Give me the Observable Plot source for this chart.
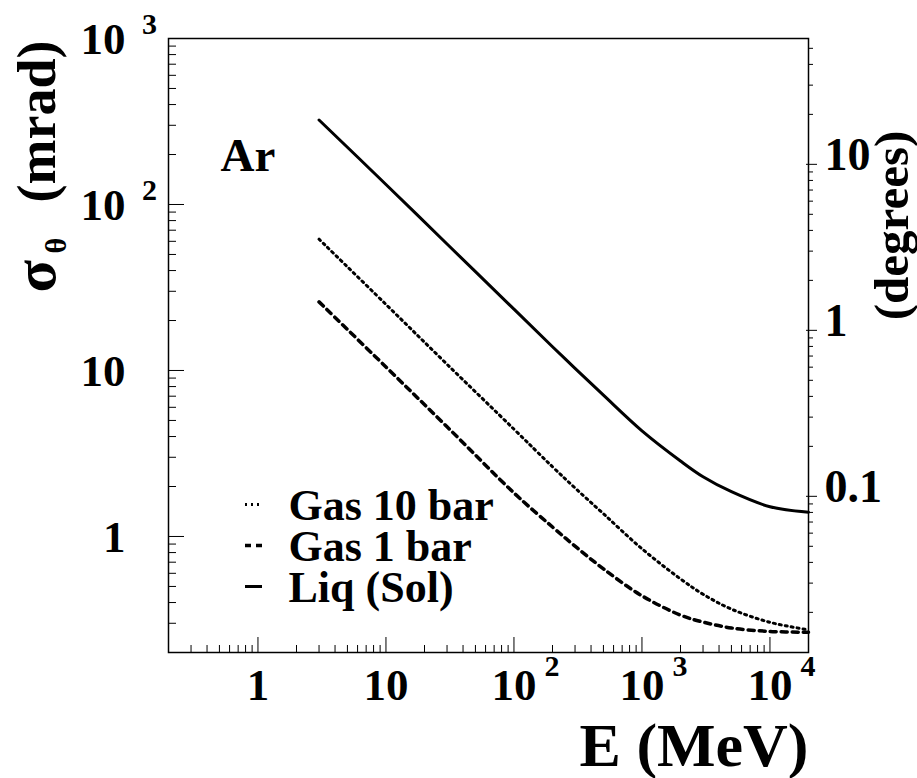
<!DOCTYPE html>
<html>
<head>
<meta charset="utf-8">
<script src="https://cdn.jsdelivr.net/npm/d3@7"></script>
<script src="https://cdn.jsdelivr.net/npm/@observablehq/plot@0.6"></script>
<style>
  html, body { margin: 0; padding: 0; background: #fff; }
  #chart svg { display: block; overflow: visible; }
</style>
</head>
<body>
<div id="chart"></div>
<script>
// ---- data (E in MeV, sigma_theta in mrad) ----
const energy = [3, 10, 30, 100, 200, 300, 500, 1000, 2000, 3000, 5000, 10000, 20000];
const liqSol = [323, 132, 57.8, 23.4, 13.9, 10.3, 7.1, 4.33, 2.85, 2.29, 1.86, 1.51, 1.40];
const gas10  = [61.8, 25.0, 10.9, 4.43, 2.63, 1.96, 1.37, 0.843, 0.555, 0.449, 0.365, 0.304, 0.274];
const gas1   = [25.9, 10.5, 4.58, 1.83, 1.14, 0.875, 0.638, 0.439, 0.336, 0.305, 0.281, 0.268, 0.265];

// ---- axis tick values / labels ----
const xTicks = [1, 10, 100, 1000, 10000];
const xTickBase = ["1", "10", "10", "10", "10"];
const xTickExp = ["", "", "2", "3", "4"];
const yTicks = [1, 10, 100, 1000];
const yTickBase = ["1", "10", "10", "10"];
const yTickExp = ["", "", "2", "3"];
const degTicks = [0.1, 1, 10];
const degTickLabels = ["0.1", "1", "10"];
const legendLabels = ["Gas 10 bar", "Gas 1 bar", "Liq (Sol)"];
const xDomain = [0.2, 20000];
const yDomain = [0.2, 1000];
const mradPerDeg = Math.PI / 180 * 1000;

const decadeMinors = (decades, lo, hi) =>
  d3.merge(decades.map(p => d3.range(2, 10).map(k => +(k * p).toPrecision(6))))
    .filter(v => v > lo && v < hi);
const xMinor = decadeMinors([0.1, 1, 10, 100, 1000], xDomain[0], xDomain[1]);
const yMinor = decadeMinors([0.1, 1, 10, 100], yDomain[0], yDomain[1]);
const degMinor = decadeMinors([0.01, 0.1, 1, 10], yDomain[0] / mradPerDeg, yDomain[1] / mradPerDeg);

// ---- layout ----
const W = 917, H = 778;
const mL = 168, mR = 109, mT = 38, mB = 126;
const fw = W - mL - mR, fh = H - mT - mB;
const midY = (mT + H - mB) / 2;
const font = "'Liberation Serif', 'Times New Roman', serif";

const legendStyles = [
  {strokeWidth: 3, strokeDasharray: "2,4"},
  {strokeWidth: 3.5, strokeDasharray: "6,5"},
  {strokeWidth: 3}
];
const legendRowY = [504, 545, 586];

const T = (opts) => ({fontWeight: "bold", fontFamily: font, fill: "black", ...opts});

const marks = [
  Plot.frame({stroke: "black", strokeWidth: 1.5}),
  // bottom axis ticks (inside)
  Plot.tickX(xTicks, {x: d => d, insetTop: fh - 15, stroke: "black"}),
  Plot.tickX(xMinor, {x: d => d, insetTop: fh - 7, stroke: "black"}),
  // left axis ticks (inside)
  Plot.tickY(yTicks, {y: d => d, insetRight: fw - 16, stroke: "black"}),
  Plot.tickY(yMinor, {y: d => d, insetRight: fw - 8, stroke: "black"}),
  // right (degrees) axis ticks (outside)
  Plot.tickY(degTicks, {y: d => d * mradPerDeg, insetLeft: fw - 2, insetRight: -9, stroke: "black"}),
  Plot.tickY(degMinor, {y: d => d * mradPerDeg, insetLeft: fw, insetRight: -5, stroke: "black"}),
  // bottom tick labels
  Plot.text(xTicks, T({x: d => d, text: (d, i) => xTickBase[i], frameAnchor: "bottom", dy: 47, fontSize: 45})),
  Plot.text(xTicks, T({x: d => d, text: (d, i) => xTickExp[i], frameAnchor: "bottom", dx: 38, dy: 23, fontSize: 30})),
  // left tick labels
  Plot.text(yTicks, T({y: d => d, text: (d, i) => yTickBase[i], frameAnchor: "left", textAnchor: "end", dx: -43, dy: 1, fontSize: 45})),
  Plot.text(yTicks, T({y: d => d, text: (d, i) => yTickExp[i], frameAnchor: "left", textAnchor: "middle", dx: -19, dy: -14, fontSize: 30})),
  // right tick labels (degrees)
  Plot.text(degTicks, T({y: d => d * mradPerDeg, text: (d, i) => degTickLabels[i], frameAnchor: "right", textAnchor: "start", dx: 16, dy: -9, fontSize: 46})),
  // curves
  Plot.line(energy, {x: d => d, y: (d, i) => gas10[i], curve: "catmull-rom", stroke: "black", ...legendStyles[0]}),
  Plot.line(energy, {x: d => d, y: (d, i) => gas1[i], curve: "catmull-rom", stroke: "black", ...legendStyles[1]}),
  Plot.line(energy, {x: d => d, y: (d, i) => liqSol[i], curve: "catmull-rom", stroke: "black", ...legendStyles[2]}),
  // "Ar" label
  Plot.text(["Ar"], T({text: d => d, frameAnchor: "top-left", textAnchor: "start", lineAnchor: "bottom", dx: 52, dy: 132, fontSize: 47})),
  // axis titles
  Plot.text(["E (MeV)"], T({text: d => d, frameAnchor: "bottom-right", textAnchor: "end", lineAnchor: "bottom", dy: 113, fontSize: 62})),
  Plot.text(["(mrad)"], T({text: d => d, frameAnchor: "top-left", textAnchor: "end", lineAnchor: "bottom", rotate: -90, dx: -114, dy: 2, fontSize: 54})),
  Plot.text(["σ"], T({text: d => d, frameAnchor: "top-left", textAnchor: "start", lineAnchor: "bottom", rotate: -90, dx: -114, dy: 254, fontSize: 60})),
  Plot.text(["θ"], T({text: d => d, frameAnchor: "top-left", textAnchor: "start", lineAnchor: "bottom", rotate: -90, dx: -103, dy: 215, fontSize: 30})),
  Plot.text(["(degrees)"], T({text: d => d, frameAnchor: "top-right", textAnchor: "middle", lineAnchor: "bottom", rotate: -90, dx: 99, dy: 187, fontSize: 49}))
];

// legend
legendLabels.forEach((lab, i) => {
  marks.push(Plot.ruleY([lab], {y: null, insetLeft: 77, insetRight: fw - 94, dy: legendRowY[i] - midY, stroke: "black", ...legendStyles[i]}));
  marks.push(Plot.text([lab], T({text: d => d, frameAnchor: "top-left", textAnchor: "start", lineAnchor: "middle", dx: 120, dy: legendRowY[i] - mT + 1, fontSize: 44})));
});

const chart = Plot.plot({
  width: W, height: H,
  marginLeft: mL, marginRight: mR, marginTop: mT, marginBottom: mB,
  x: {type: "log", domain: xDomain, axis: null},
  y: {type: "log", domain: yDomain, axis: null},
  style: {fontFamily: font, background: "white", overflow: "visible"},
  marks
});
document.getElementById("chart").appendChild(chart);
</script>
</body>
</html>
